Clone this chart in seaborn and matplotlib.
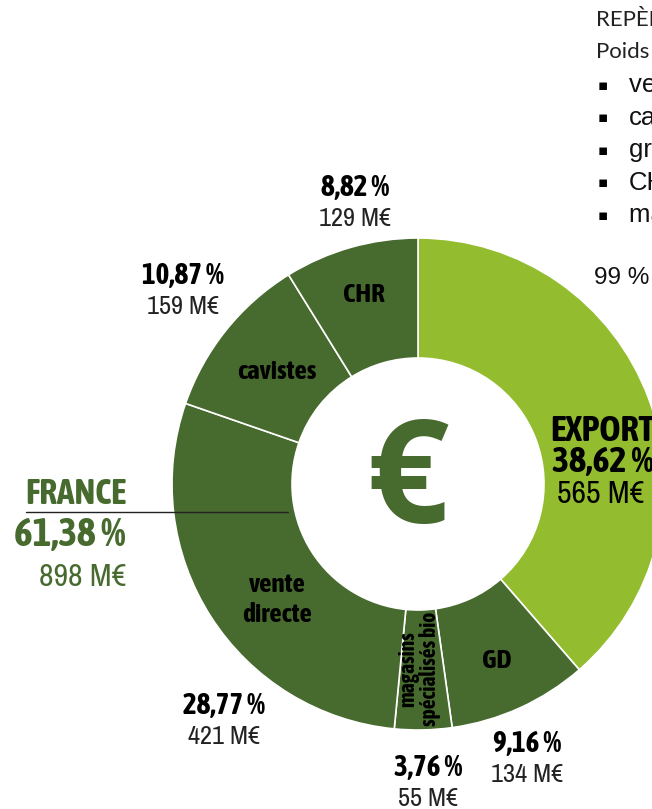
import matplotlib
matplotlib.use("Agg")
import matplotlib.pyplot as plt
from matplotlib import font_manager
from matplotlib.font_manager import FontProperties
import seaborn as sns

# data
segments = ["EXPORT", "GD", "magasins\nspécialisés bio", "vente\ndirecte", "cavistes", "CHR"]
shares = [38.62, 9.16, 3.76, 28.77, 10.87, 8.82]
amounts = [565, 134, 55, 421, 159, 129]
france_share = 61.38
france_amount = 898

dark = "#476a2e"
light = "#93bd2f"
colors = [light] + [dark] * 5

sns.set_theme(style="white")


def wnum(w):
    if isinstance(w, str):
        return font_manager.weight_dict.get(w, 400)
    return w


# pick condensed faces (regular and bold) if installed
cond = [f for f in font_manager.fontManager.ttflist
        if ("Condensed" in f.name or "Narrow" in f.name) and f.style == "normal"]
if cond:
    fam = sorted({f.name for f in cond})[0]
    faces = [f for f in cond if f.name == fam] or cond
    reg_file = min(faces, key=lambda f: abs(wnum(f.weight) - 400)).fname
    bold_faces = [f for f in cond if wnum(f.weight) >= 600] or faces
    bold_file = min(bold_faces, key=lambda f: abs(wnum(f.weight) - 700)).fname
    REG = lambda s: FontProperties(fname=reg_file, size=s)
    BOLD = lambda s: FontProperties(fname=bold_file, size=s)
    k = 1.0
else:
    REG = lambda s: FontProperties(family="Liberation Sans", size=s)
    BOLD = lambda s: FontProperties(family="Liberation Sans", weight="bold", size=s)
    k = 0.86

fig = plt.figure(figsize=(6.52, 8.09), dpi=100)
ax = fig.add_axes([0, 0, 1, 1])

# donut (pixel coordinates, y pointing down)
ax.pie(shares, colors=colors, center=(418, 484), radius=246,
       startangle=-90, counterclock=True,
       wedgeprops=dict(width=120, edgecolor="white", linewidth=1.2))
ax.set_xlim(0, 652)
ax.set_ylim(809, 0)
ax.set_aspect("equal")
ax.axis("off")

# euro sign in the hole
ax.text(408, 486, "€", ha="center", va="center", fontsize=104,
        fontweight="bold", color=dark, family=["Open Sans", "DejaVu Sans"])


def fmt(v):
    return f"{v:.2f}".replace(".", ",") + " %"


# labels inside the ring
inner_pos = {"GD": (497, 660), "magasins\nspécialisés bio": (419, 669),
             "vente\ndirecte": (277, 599), "cavistes": (277, 371), "CHR": (364, 295)}
for name in segments[1:]:
    x, y = inner_pos[name]
    if name.startswith("magasins"):
        ax.text(x, y, name, ha="center", va="center", rotation=90,
                linespacing=0.95, fontproperties=BOLD(15.5 * k), color="black")
    else:
        ax.text(x, y, name, ha="center", va="center", linespacing=1.25,
                fontproperties=BOLD(19.5 * k), color="black")

# labels outside the ring
outer_pos = {"GD": (527, 743), "magasins\nspécialisés bio": (428, 768),
             "vente\ndirecte": (224, 705), "cavistes": (183, 275), "CHR": (355, 187)}
for name, s, a in zip(segments[1:], shares[1:], amounts[1:]):
    x, y = outer_pos[name]
    ax.text(x, y, fmt(s), ha="center", va="center",
            fontproperties=BOLD(21 * k), color="black")
    ax.text(x, y + 31, f"{a} M€", ha="center", va="center",
            fontproperties=REG(19 * k), color="#222222")

# export label
ax.text(603, 431, segments[0], ha="center", va="center",
        fontproperties=BOLD(26 * k), color="black")
ax.text(603, 462, fmt(shares[0]), ha="center", va="center",
        fontproperties=BOLD(26 * k), color="black")
ax.text(601, 494, f"{amounts[0]} M€", ha="center", va="center",
        fontproperties=REG(23 * k), color="black")

# france label
ax.text(126, 494, "FRANCE", ha="right", va="center",
        fontproperties=BOLD(25.5 * k), color=dark)
ax.plot([26, 288], [512, 512], color="#222222", lw=1)
ax.text(126, 535, fmt(france_share), ha="right", va="center",
        fontproperties=BOLD(28.5 * k), color=dark)
ax.text(126, 577, f"{france_amount} M€", ha="right", va="center",
        fontproperties=REG(23 * k), color=dark)

# side note (cut off by the page edge)
ax.text(596, 20, "REPÈRES", ha="left", va="center", fontsize=16,
        family=["Lato", "DejaVu Sans"], color="#222222")
ax.text(596, 52, "Poids des circuits", ha="left", va="center", fontsize=16,
        family=["Lato", "DejaVu Sans"], color="#222222")
notes = ["vente directe", "cavistes", "grande distribution", "CHR", "magasins bio"]
for i, n in enumerate(notes):
    y = 85 + i * 32.5
    ax.text(603, y, "▪", ha="center", va="center", fontsize=11,
            family=["DejaVu Sans"], color="black")
    ax.text(629, y, n, ha="left", va="center", fontsize=18.5,
            family=["Liberation Sans", "DejaVu Sans"], color="#111111")
ax.text(594, 278, "99 % des", ha="left", va="center", fontsize=17.5,
        family=["Liberation Sans", "DejaVu Sans"], color="#111111")

fig.savefig("out.png", dpi=100)
